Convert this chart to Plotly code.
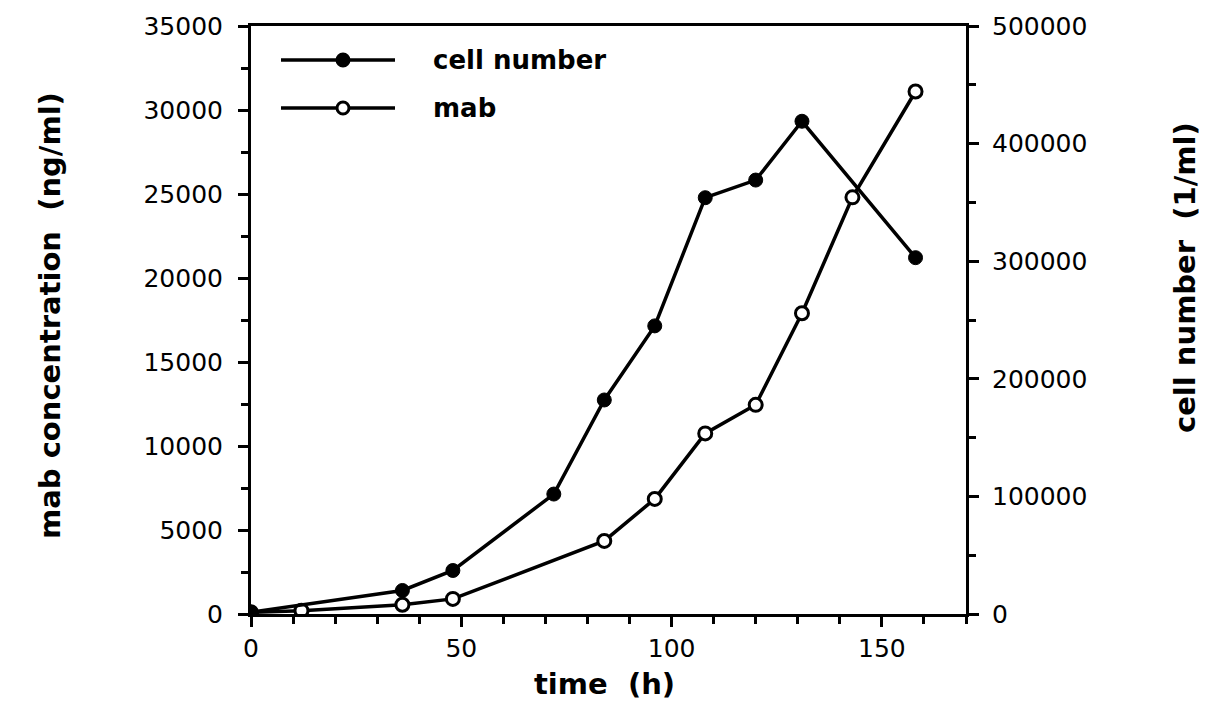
import plotly.graph_objects as go

# ---- data ----
cell_time = [0, 36, 48, 72, 84, 96, 108, 120, 131, 158]
cell_number = [1500, 20000, 37000, 102000, 182000, 245000, 354000, 369000, 419000, 303000]

mab_time = [0, 12, 36, 48, 84, 96, 108, 120, 131, 143, 158]
mab_conc = [100, 200, 550, 900, 4350, 6850, 10750, 12450, 17900, 24800, 31100]

x_ticks = [0, 50, 100, 150]
y_ticks = [0, 5000, 10000, 15000, 20000, 25000, 30000, 35000]
y2_ticks = [0, 100000, 200000, 300000, 400000, 500000]

legend_names = ["cell number", "mab"]

# ---- layout geometry (pixels) ----
W, H = 1207, 703
L, R, T, B = 243, 958, 18, 606
PW, PH = R - L, B - T

def px(x):
    return (x - L) / PW

def py(y):
    return (B - y) / PH

TICK_FONT = dict(family="DejaVu Sans", size=25, color="black")
TITLE_FONT = dict(family="DejaVu Sans", size=29, color="black")

fig = go.Figure()

fig.add_trace(go.Scatter(
    x=cell_time, y=cell_number, yaxis="y2", mode="lines+markers",
    name=legend_names[0], showlegend=False,
    line=dict(color="black", width=3.5),
    marker=dict(symbol="circle", size=14, color="black",
                line=dict(color="black", width=1)),
))
fig.add_trace(go.Scatter(
    x=mab_time, y=mab_conc, mode="lines+markers",
    name=legend_names[1], showlegend=False,
    line=dict(color="black", width=3.5),
    marker=dict(symbol="circle", size=13, color="white",
                line=dict(color="black", width=3)),
))

fig.update_layout(
    width=W, height=H,
    margin=dict(l=L, r=W - R, t=T, b=H - B, autoexpand=False),
    paper_bgcolor="white", plot_bgcolor="white",
    showlegend=False,
    xaxis=dict(
        range=[0, 170], tickvals=x_ticks, ticktext=[str(v) for v in x_ticks],
        showgrid=False, zeroline=False,
        showline=True, linecolor="black", linewidth=3, mirror=True,
        ticks="outside", ticklen=10, tickwidth=3, tickcolor="black",
        minor=dict(dtick=10, tick0=0, ticks="outside", ticklen=7,
                   tickwidth=3, tickcolor="black", showgrid=False),
        tickfont=TICK_FONT, ticklabelstandoff=0,
    ),
    yaxis=dict(
        range=[0, 35000], tickvals=y_ticks, ticktext=[str(v) for v in y_ticks],
        showgrid=False, zeroline=False,
        showline=True, linecolor="black", linewidth=3,
        ticks="outside", ticklen=10, tickwidth=3, tickcolor="black",
        minor=dict(dtick=2500, tick0=0, ticks="outside", ticklen=7,
                   tickwidth=3, tickcolor="black", showgrid=False),
        tickfont=TICK_FONT, ticklabelstandoff=10,
    ),
    yaxis2=dict(
        range=[0, 500000], overlaying="y", side="right",
        tickvals=y2_ticks, ticktext=[str(v) for v in y2_ticks],
        showgrid=False, zeroline=False,
        showline=True, linecolor="black", linewidth=3,
        ticks="outside", ticklen=10, tickwidth=3, tickcolor="black",
        minor=dict(dtick=50000, tick0=0, ticks="outside", ticklen=7,
                   tickwidth=3, tickcolor="black", showgrid=False),
        tickfont=TICK_FONT, ticklabelstandoff=8,
    ),
)

# axis titles
fig.add_annotation(text="<b>mab concentration\u00a0\u00a0(ng/ml)</b>",
                   xref="paper", yref="paper", x=px(42), y=py(308),
                   xanchor="center", yanchor="middle", textangle=-90,
                   showarrow=False, font=TITLE_FONT)
fig.add_annotation(text="<b>cell number\u00a0\u00a0(1/ml)</b>",
                   xref="paper", yref="paper", x=px(1177), y=py(270),
                   xanchor="center", yanchor="middle", textangle=-90,
                   showarrow=False, font=TITLE_FONT)
fig.add_annotation(text="<b>time\u00a0\u00a0(h)</b>",
                   xref="paper", yref="paper", x=px(596), y=py(676),
                   xanchor="center", yanchor="middle",
                   showarrow=False, font=TITLE_FONT)

# legend drawn inside the plot
leg_y = [52, 100]
for i, name in enumerate(legend_names):
    yy = py(leg_y[i])
    fig.add_shape(type="line", xref="paper", yref="paper",
                  x0=px(273), x1=px(387), y0=yy, y1=yy,
                  line=dict(color="black", width=3.5))
    fill = "black" if i == 0 else "white"
    fig.add_shape(type="circle", xref="paper", yref="paper",
                  xsizemode="pixel", ysizemode="pixel",
                  xanchor=px(335), yanchor=yy,
                  x0=-6, x1=6, y0=-6, y1=6,
                  fillcolor=fill, line=dict(color="black", width=3))
    fig.add_annotation(text="<b>" + name + "</b>", xref="paper", yref="paper",
                       x=px(423), y=yy, xanchor="left", yanchor="middle",
                       showarrow=False,
                       font=dict(family="DejaVu Sans", size=26, color="black"))

fig.write_html("out.html")
